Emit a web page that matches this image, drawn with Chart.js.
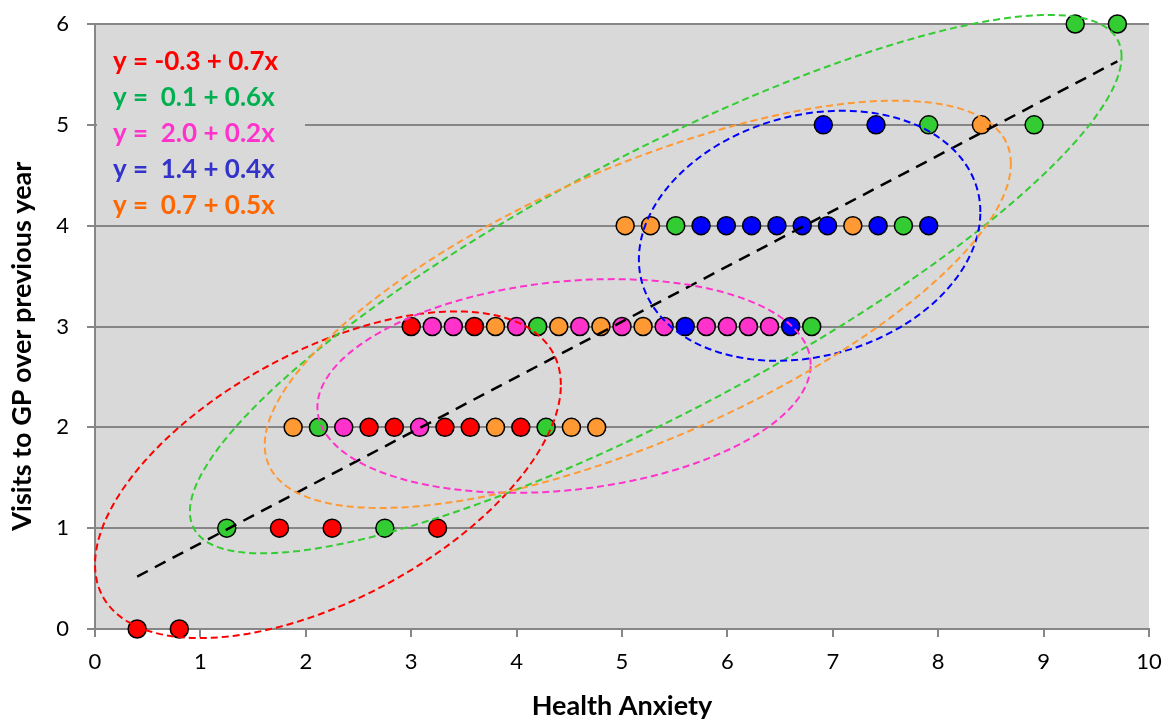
<!DOCTYPE html>
<html>
<head>
<meta charset="utf-8">
<title>Health Anxiety vs GP visits</title>
<script src="https://cdn.jsdelivr.net/npm/chart.js@4.4.1/dist/chart.umd.min.js"></script>
<style>
  html, body { margin: 0; padding: 0; background: #fff; }
  #wrap { width: 1168px; height: 719px; }
</style>
</head>
<body>
<div id="wrap"><canvas id="anxietyChart" width="1168" height="719"></canvas></div>
<script>
// values (x = health anxiety, y = visits to GP)
const redX    = [0.4, 0.8, 1.75, 2.25, 3.25, 2.6, 2.84, 3.32, 3.56, 4.04, 3.0, 3.6];
const redY    = [0, 0, 1, 1, 1, 2, 2, 2, 2, 2, 3, 3];
const greenX  = [1.25, 2.75, 2.12, 4.28, 4.2, 6.8, 5.51, 7.67, 7.91, 8.91, 9.3, 9.7];
const greenY  = [1, 1, 2, 2, 3, 3, 4, 4, 5, 5, 6, 6];
const pinkX   = [2.36, 3.08, 3.2, 3.4, 4.0, 4.6, 5.0, 5.4, 5.8, 6.0, 6.2, 6.4];
const pinkY   = [2, 2, 3, 3, 3, 3, 3, 3, 3, 3, 3, 3];
const blueX   = [5.6, 6.6, 5.75, 5.99, 6.23, 6.47, 6.71, 6.95, 7.43, 7.91, 6.91, 7.41];
const blueY   = [3, 3, 4, 4, 4, 4, 4, 4, 4, 4, 5, 5];
const orangeX = [1.88, 3.8, 4.52, 4.76, 3.8, 4.4, 4.8, 5.2, 5.03, 5.27, 7.19, 8.41];
const orangeY = [2, 2, 2, 2, 3, 3, 3, 3, 4, 4, 4, 5];

// overall trend line (end points)
const trendX = [0.4, 9.7];
const trendY = [0.52, 5.63];

// group ellipses: centre, half width, half height (data units), tilt (correlation)
const ellipseCx  = [2.21, 5.32, 4.45, 6.78, 5.15];
const ellipseCy  = [1.53, 3.42, 2.41, 3.90, 3.22];
const ellipseRx  = [2.21, 4.42, 2.34, 1.62, 3.54];
const ellipseRy  = [1.62, 2.67, 1.06, 1.24, 2.02];
const ellipseRho = [0.55, 0.845, 0.2, 0.19, 0.69];

const equations = [
  "y = -0.3 + 0.7x",
  "y =  0.1 + 0.6x",
  "y =  2.0 + 0.2x",
  "y =  1.4 + 0.4x",
  "y =  0.7 + 0.5x"
];

const pointColors    = ["#ff0000", "#33cc33", "#ff33cc", "#0000ff", "#ff9933"];
const equationColors = ["#ff0000", "#00b050", "#ff33cc", "#3333cc", "#ff6600"];
const FONT = "Lato, 'Open Sans', sans-serif";

const toPoints = (xs, ys) => xs.map((x, i) => ({ x: x, y: ys[i] }));

function groupSet(xs, ys, color) {
  return {
    type: "scatter",
    data: toPoints(xs, ys),
    backgroundColor: color,
    borderColor: "#000",
    borderWidth: 1.5,
    pointRadius: 9,
    clip: false,
    order: 2
  };
}

const plotBackground = {
  id: "plotBackground",
  beforeDraw(chart) {
    const { ctx, chartArea } = chart;
    ctx.save();
    ctx.fillStyle = "#d9d9d9";
    ctx.fillRect(chartArea.left, chartArea.top, chartArea.right - chartArea.left, chartArea.bottom - chartArea.top);
    ctx.restore();
  }
};

const groupEllipses = {
  id: "groupEllipses",
  afterDatasetsDraw(chart) {
    const { ctx, chartArea } = chart;
    const xs = chart.scales.x, ys = chart.scales.y;

    // equation box in the top-left corner
    ctx.save();
    ctx.fillStyle = "#d9d9d9";
    ctx.fillRect(chartArea.left + 2, chartArea.top + 6, 208, 186);
    ctx.font = "bold 26px " + FONT;
    ctx.textBaseline = "middle";
    equations.forEach((txt, i) => {
      ctx.fillStyle = equationColors[i];
      ctx.fillText(txt, chartArea.left + 18, chartArea.top + 38 + i * 35.8);
    });
    ctx.restore();

    ctx.save();
    ctx.lineWidth = 2;
    ctx.setLineDash([7, 4]);
    for (let k = 0; k < ellipseCx.length; k++) {
      const w = ellipseRx[k], h = ellipseRy[k], r = ellipseRho[k];
      ctx.beginPath();
      for (let i = 0; i <= 180; i++) {
        const t = i / 180 * Math.PI * 2;
        const dx = w * Math.cos(t);
        const dy = h * (r * Math.cos(t) + Math.sqrt(1 - r * r) * Math.sin(t));
        const px = xs.getPixelForValue(ellipseCx[k] + dx);
        const py = ys.getPixelForValue(ellipseCy[k] + dy);
        if (i === 0) ctx.moveTo(px, py); else ctx.lineTo(px, py);
      }
      ctx.closePath();
      ctx.strokeStyle = pointColors[k];
      ctx.stroke();
    }
    ctx.restore();
  }
};

new Chart(document.getElementById("anxietyChart"), {
  type: "scatter",
  data: {
    datasets: [
      groupSet(redX, redY, pointColors[0]),
      groupSet(greenX, greenY, pointColors[1]),
      groupSet(pinkX, pinkY, pointColors[2]),
      groupSet(blueX, blueY, pointColors[3]),
      groupSet(orangeX, orangeY, pointColors[4]),
      {
        type: "line",
        data: toPoints(trendX, trendY),
        borderColor: "#000",
        borderWidth: 2.5,
        borderDash: [12, 8],
        pointRadius: 0,
        fill: false,
        order: 1
      }
    ]
  },
  options: {
    responsive: false,
    animation: false,
    devicePixelRatio: 1,
    layout: { padding: { top: 24, right: 19, left: 0, bottom: 0 } },
    plugins: {
      legend: { display: false },
      tooltip: { enabled: false }
    },
    scales: {
      x: {
        type: "linear",
        min: 0,
        max: 10,
        ticks: { stepSize: 1, color: "#000", font: { family: FONT, size: 22 }, padding: 12 },
        grid: { drawOnChartArea: false, color: "#868686", lineWidth: 2, tickLength: 8 },
        border: { color: "#868686", width: 2 },
        title: {
          display: true,
          text: "Health Anxiety",
          color: "#000",
          font: { family: FONT, size: 27, weight: "bold" },
          padding: { top: 0, bottom: -3 }
        },
        afterFit: (s) => { s.height = 90; s.paddingLeft = 0; s.paddingRight = 0; }
      },
      y: {
        type: "linear",
        min: 0,
        max: 6,
        ticks: { stepSize: 1, color: "#000", font: { family: FONT, size: 22 }, padding: 18 },
        grid: { color: "#868686", lineWidth: 2, tickLength: 8 },
        border: { color: "#868686", width: 2 },
        title: {
          display: true,
          text: "Visits to GP over previous year      ",
          color: "#000",
          font: { family: FONT, size: 27, weight: "bold" },
          padding: { top: 6, bottom: 0 }
        },
        afterFit: (s) => { s.width = 95; s.paddingTop = 0; s.paddingBottom = 0; }
      }
    }
  },
  plugins: [plotBackground, groupEllipses]
});
</script>
</body>
</html>
